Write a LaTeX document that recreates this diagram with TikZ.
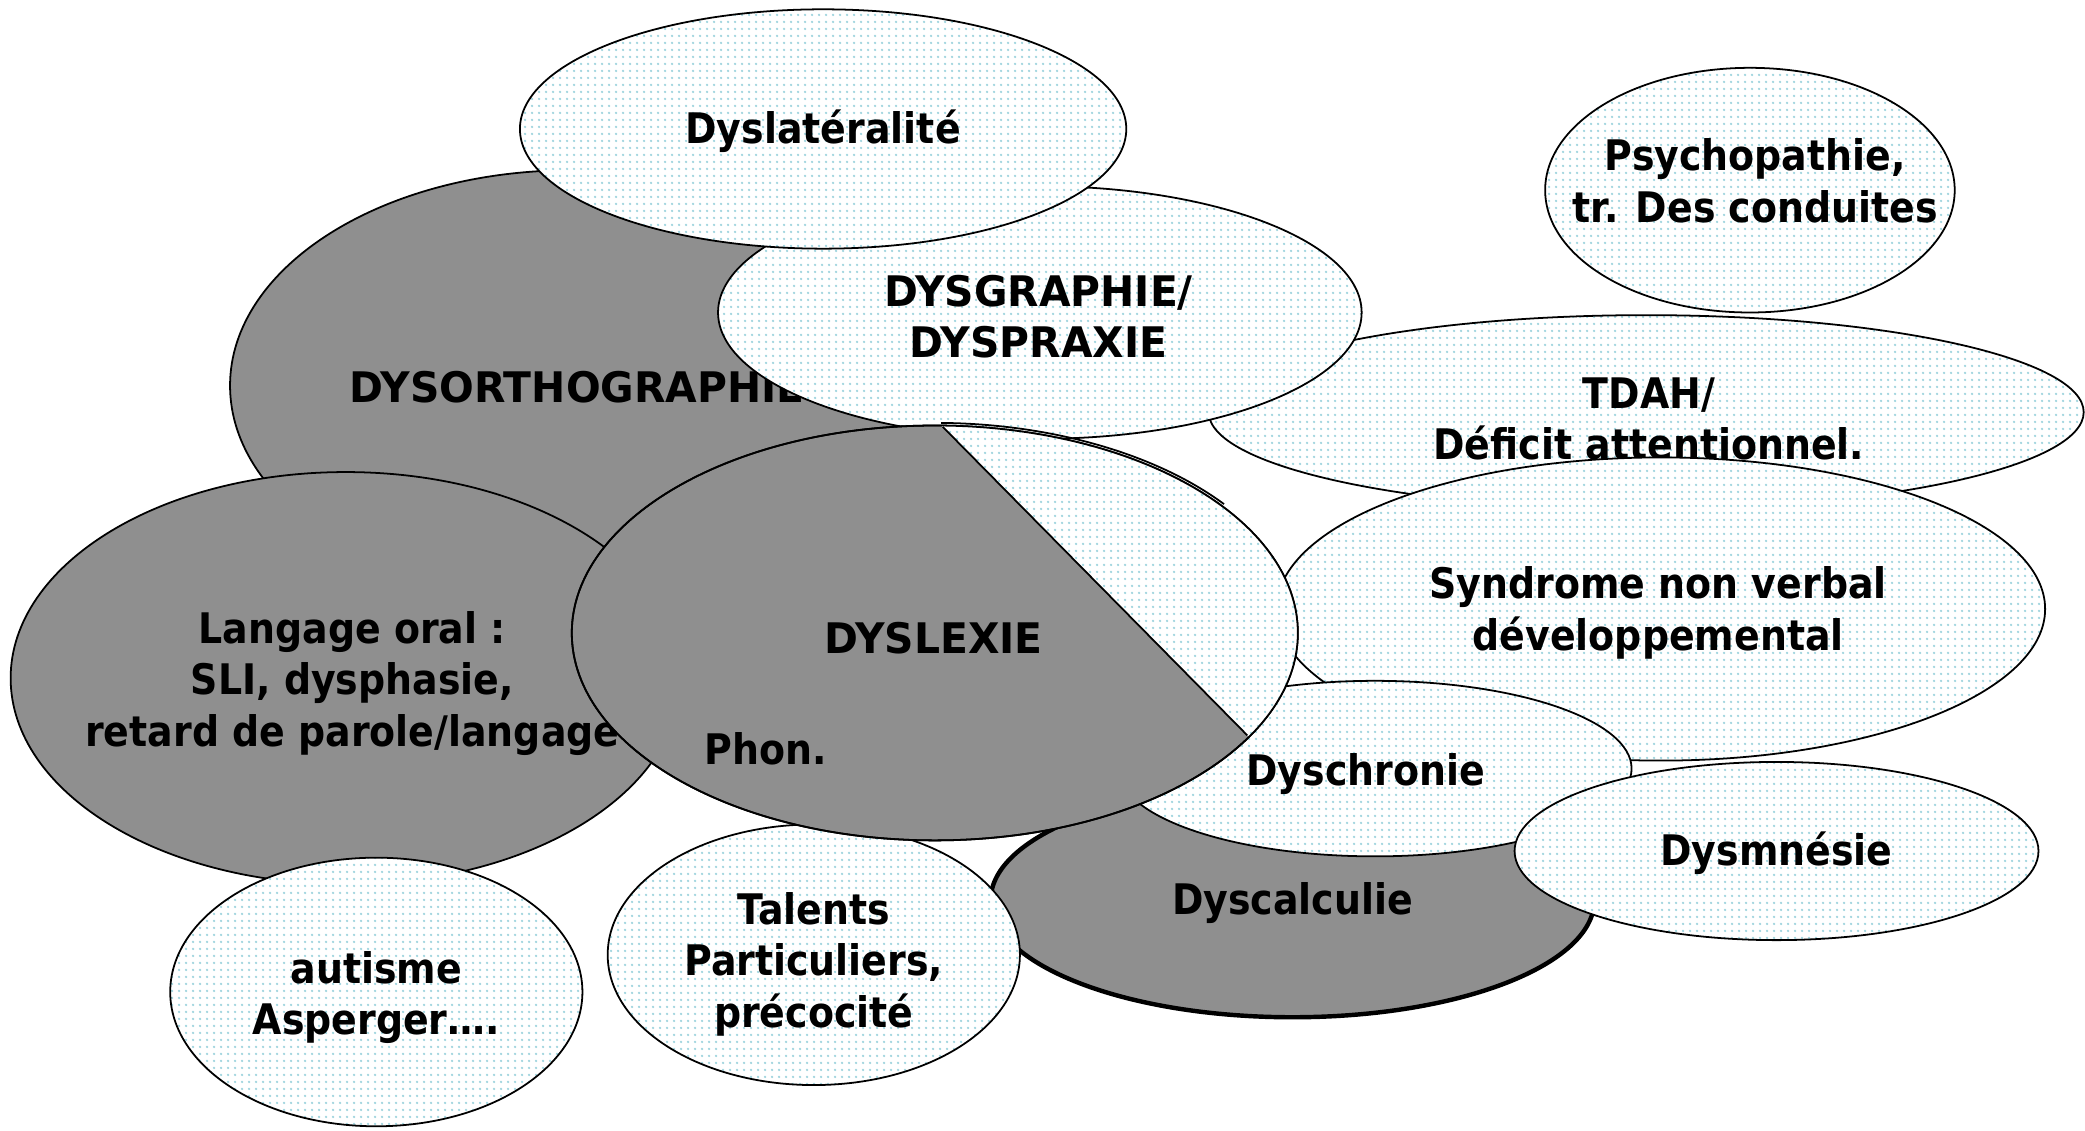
\documentclass[tikz,border=0pt]{standalone}
\usepackage{fontspec}
\setmainfont{DejaVu Sans}[FakeStretch=0.9]
\newfontfamily\capsfont{DejaVu Sans}[FakeStretch=0.97]
\usetikzlibrary{patterns}
\pgfdeclarepatternformonly{mydots}{\pgfqpoint{-1pt}{-1pt}}{\pgfqpoint{2pt}{2pt}}{\pgfqpoint{3pt}{3pt}}%
{\pgfpathcircle{\pgfqpoint{0pt}{0pt}}{.6pt}\pgfusepath{fill}}
\definecolor{gry}{RGB}{143,143,143}
\definecolor{dotc}{RGB}{160,212,222}
\tikzset{
  lite/.style={draw=black, line width=0.8pt, preaction={fill=white}, pattern=mydots, pattern color=dotc},
  dark/.style={draw=black, line width=0.8pt, fill=gry},
  lbl/.style={font=\fontsize{19}{23.2}\selectfont\bfseries, align=center, inner sep=0pt},
  clbl/.style={font=\fontsize{19}{23.2}\selectfont\capsfont\bfseries, align=center, inner sep=0pt},
}
\begin{document}
\begin{tikzpicture}[x=0.6pt,y=-0.6pt]
\useasboundingbox (0,0) rectangle (1568,850);
\fill[white] (0,0) rectangle (1568,850);

% TDAH
\path[lite] (1238,310) ellipse [x radius=329, y radius=73];
\node[lbl] (tdah) at (1240,315) {TDAH/\\Déficit attentionnel.};
% Syndrome
\path[lite] (1249,458) ellipse [x radius=289, y radius=114];
\node[lbl] (snv) at (1247,461) {Syndrome non verbal\\développemental};
% Psychopathie
\path[lite] (1316,143) ellipse [x radius=154, y radius=92];
\node[lbl] (psy) at (1320,136) {Psychopathie,\\tr. Des conduites};
% Dysorthographie
\path[dark] (430,290) ellipse [x radius=257, y radius=162];
\node[clbl] (dysor) at (434,291) {DYSORTHOGRAPHIE};
% Langage oral
\path[dark] (260,510) ellipse [x radius=252, y radius=155];
\node[lbl] (lang) at (265,514) {Langage oral :\\SLI, dysphasie,\\retard de parole/langage};
% Autisme
\path[lite] (283,746) ellipse [x radius=155, y radius=101];
\node[lbl] (aut) at (283,750) {autisme\\Asperger….};
% Dysgraphie
\path[lite] (782,235) ellipse [x radius=242, y radius=95];
\node[clbl] (dysg) at (781,238) {DYSGRAPHIE/\\DYSPRAXIE};
% Dyslateralite
\path[lite] (619,97) ellipse [x radius=228, y radius=90];
\node[lbl] (dyslat) at (619,99) {Dyslatéralité};
% Dyscalculie
\path[draw=black, line width=2pt, fill=gry] (972,677) ellipse [x radius=227, y radius=88];
\node[lbl] (dyscal) at (972,679) {Dyscalculie};
% Talents
\path[lite] (612,718) ellipse [x radius=155, y radius=98];
\node[lbl] (tal) at (612,725) {Talents\\Particuliers,\\précocité};
% Dyschronie
\path[lite] (1034,578) ellipse [x radius=193, y radius=66];
\node[lbl] (dyschr) at (1027,582) {Dyschronie};
% Dysmnesie
\path[lite] (1336,640) ellipse [x radius=197, y radius=67];
\node[lbl] (dysm) at (1336,642) {Dysmnésie};
% Dyslexie
\path[dark] (703,476) ellipse [x radius=273, y radius=156];
\begin{scope}
  \clip (703,476) ellipse [x radius=273, y radius=156];
  \path[lite, draw=none] (609,220) -- (1038,654) -- (1100,654) -- (1100,220) -- cycle;
\end{scope}
\draw[line width=0.8pt] (703,476) ellipse [x radius=273, y radius=156];
\coordinate (c1) at (709,321);
\coordinate (c2) at (938,553);
\draw[line width=0.8pt] (c1) -- (c2);
\draw[line width=0.8pt] (703,477) ++(-89:276 and 159) arc [start angle=-89, end angle=-38, x radius=276, y radius=159];
\node[clbl] (dyslex) at (702,480) {DYSLEXIE};
\node[lbl] (phon) at (576,563) {Phon.};
\end{tikzpicture}
\end{document}
